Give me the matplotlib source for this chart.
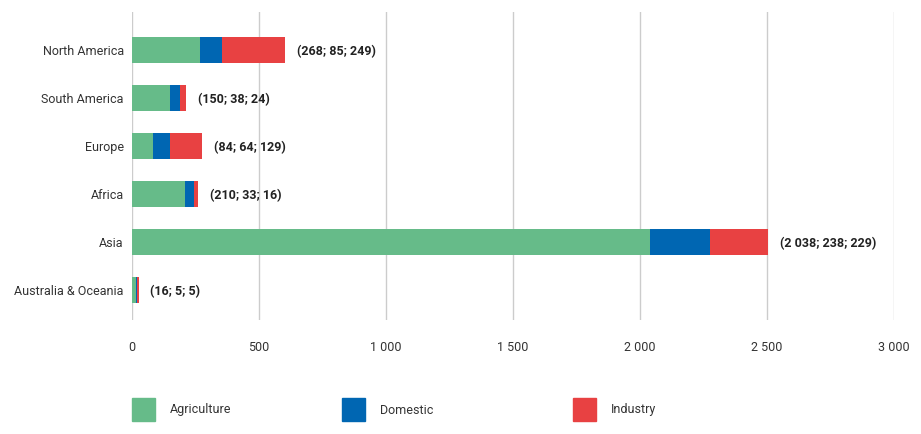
import matplotlib.pyplot as plt
from matplotlib.patches import Rectangle
import numpy as np

plt.rcParams['font.family'] = ['Roboto', 'DejaVu Sans']

regions = ["North America", "South America", "Europe", "Africa", "Asia", "Australia & Oceania"]
agriculture = [268, 150, 84, 210, 2038, 16]
domestic = [85, 38, 64, 33, 238, 5]
industry = [249, 24, 129, 16, 229, 5]
series_names = ["Agriculture", "Domestic", "Industry"]
colors = ["#66BB89", "#0066B2", "#E84142"]
xticks = [0, 500, 1000, 1500, 2000, 2500, 3000]


def fmt(v):
    return f"{v:,}".replace(",", " ")


fig = plt.figure(figsize=(9.21, 4.34), dpi=100)
ax = fig.add_axes([132 / 921, 1 - 320 / 434, 762 / 921, 308 / 434])

y = np.arange(len(regions))
left = np.zeros(len(regions))
for vals, col in zip([agriculture, domestic, industry], colors):
    ax.barh(y, vals, left=left, height=0.54, color=col, zorder=3)
    left = left + np.array(vals)

for i in range(len(regions)):
    txt = f"({fmt(agriculture[i])}; {fmt(domestic[i])}; {fmt(industry[i])})"
    ax.annotate(txt, (left[i], y[i]), xytext=(8.5, -1), textcoords="offset points",
                va="center", ha="left", fontsize=9, fontweight="semibold", color="#222222")

ax.set_xlim(0, 3000)
ax.set_ylim(5.625, -0.79)
ax.set_yticks(y)
ax.set_yticklabels(regions)
ax.set_xticks(xticks)
ax.set_xticklabels([fmt(t) for t in xticks])
ax.tick_params(axis="both", length=0, labelsize=9, colors="#333333")
ax.tick_params(axis="x", pad=15)
ax.tick_params(axis="y", pad=6)
ax.grid(axis="x", color="#CCCCCC", linewidth=1, zorder=0)
for s in ax.spines.values():
    s.set_visible(False)

# legend
leg_x = [132, 342, 573]
for lx, name, col in zip(leg_x, series_names, colors):
    fig.add_artist(Rectangle((lx / 921, 1 - 421 / 434), 23 / 921, 23 / 434,
                             transform=fig.transFigure, color=col))
    fig.text((lx + 38) / 921, 1 - 410 / 434, name, va="center", ha="left",
             fontsize=9, color="#333333")

fig.savefig("out.png", dpi=100)
